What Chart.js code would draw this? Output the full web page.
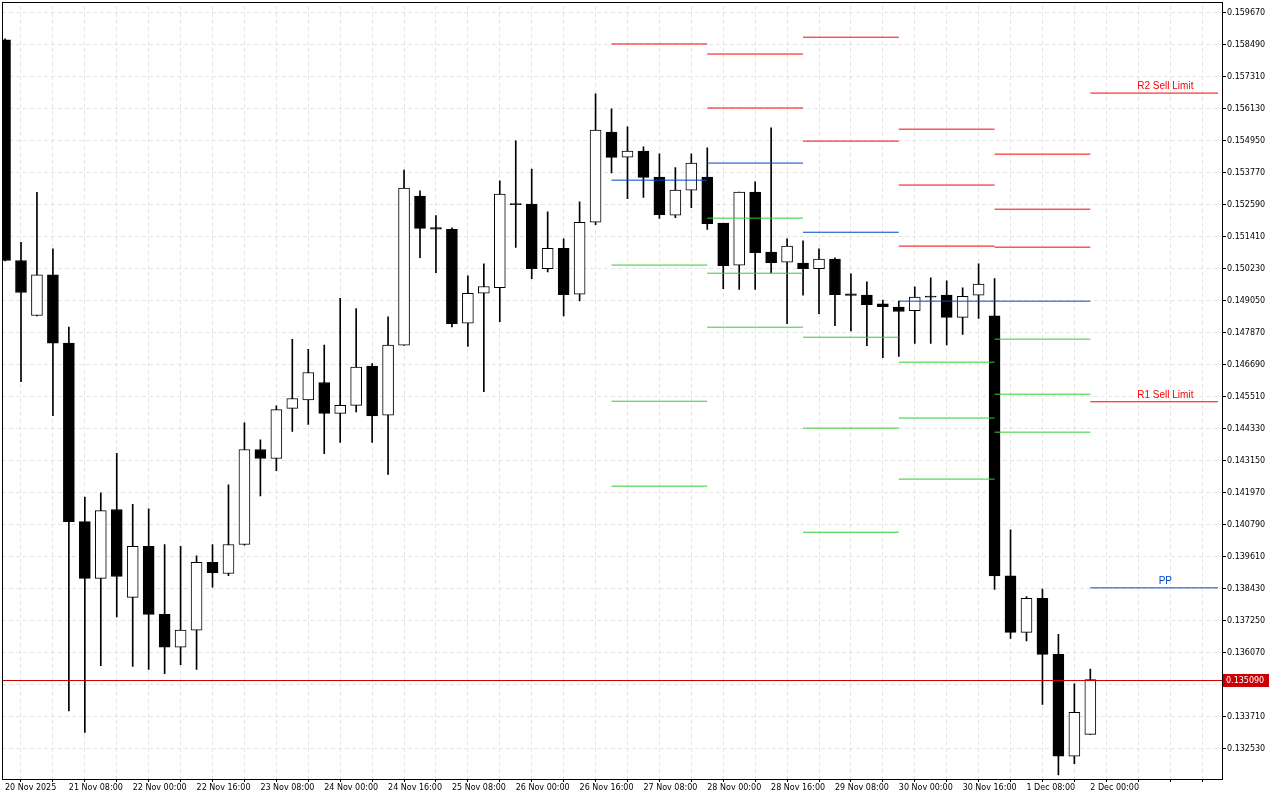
<!DOCTYPE html>
<html><head><meta charset="utf-8">
<script src="https://cdn.jsdelivr.net/npm/chart.js@4/dist/chart.umd.min.js"></script>
<style>html,body{margin:0;padding:0;background:#fff}canvas{display:block}</style>
</head><body>
<canvas id="c" width="1280" height="800"></canvas>
<script>
// --- data (4h candles, index 0 = 20 Nov 2025 16:00) ---
const opens = [0.15867,0.15054,0.14851,0.15001,0.14749,0.14091,0.13882,0.14136,0.13812,0.14000,0.13749,0.13628,0.13691,0.13941,0.13900,0.14007,0.14357,0.14324,0.14509,0.14540,0.14604,0.14490,0.14520,0.14665,0.14484,0.14742,0.15291,0.15175,0.15169,0.14823,0.14933,0.14954,0.15264,0.15262,0.15024,0.15099,0.14930,0.15195,0.15527,0.15435,0.15457,0.15361,0.15221,0.15313,0.15361,0.15192,0.15037,0.15306,0.15085,0.15048,0.15044,0.15024,0.15059,0.14931,0.14926,0.14894,0.14882,0.14869,0.14923,0.14926,0.14844,0.14926,0.14850,0.13891,0.13683,0.13808,0.13602,0.13227,0.13307];
const highs = [0.15871,0.15121,0.15305,0.15097,0.14808,0.14182,0.14197,0.14343,0.14155,0.14138,0.14007,0.14000,0.13965,0.14007,0.14227,0.14455,0.14393,0.14518,0.14763,0.14726,0.14742,0.14914,0.14877,0.14674,0.14846,0.15387,0.15311,0.15219,0.15174,0.14997,0.15042,0.15348,0.15495,0.15391,0.15233,0.15134,0.15270,0.15668,0.15613,0.15547,0.15473,0.15447,0.15396,0.15447,0.15469,0.15192,0.15306,0.15344,0.15543,0.15134,0.15126,0.15097,0.15064,0.15005,0.14975,0.14908,0.14904,0.14957,0.14990,0.14979,0.14953,0.15042,0.14987,0.14061,0.13815,0.13843,0.13676,0.13493,0.13548];
const lows = [0.15052,0.14607,0.14850,0.14482,0.13393,0.13314,0.13560,0.13740,0.13557,0.13546,0.13531,0.13564,0.13546,0.13850,0.13892,0.14004,0.14186,0.14279,0.14424,0.14450,0.14342,0.14383,0.14496,0.14383,0.14265,0.14741,0.15064,0.15009,0.14809,0.14737,0.14570,0.14828,0.15102,0.14987,0.15012,0.14850,0.14905,0.15186,0.15377,0.15282,0.15286,0.15209,0.15212,0.15249,0.15168,0.14950,0.14947,0.14947,0.15008,0.14821,0.14926,0.14858,0.14814,0.14794,0.14740,0.14696,0.14700,0.14748,0.14748,0.14743,0.14781,0.14840,0.13841,0.13661,0.13651,0.13417,0.13157,0.13199,0.13307];
const closes = [0.15054,0.14936,0.15001,0.14749,0.14091,0.13882,0.14132,0.13889,0.14000,0.13749,0.13628,0.13691,0.13941,0.13903,0.14007,0.14357,0.14324,0.14504,0.14545,0.14641,0.14490,0.14520,0.14661,0.14481,0.14742,0.15321,0.15172,0.15169,0.14821,0.14933,0.14958,0.15299,0.15260,0.15024,0.15099,0.14928,0.15195,0.15535,0.15434,0.15457,0.15360,0.15223,0.15313,0.15413,0.15190,0.15035,0.15306,0.15083,0.15046,0.15107,0.15024,0.15059,0.14928,0.14925,0.14891,0.14884,0.14866,0.14919,0.14919,0.14844,0.14922,0.14967,0.13891,0.13683,0.13808,0.13602,0.13227,0.13388,0.13509];
const timeLabels = {0:'20 Nov 2025',4:'21 Nov 08:00',8:'22 Nov 00:00',12:'22 Nov 16:00',16:'23 Nov 08:00',20:'24 Nov 00:00',24:'24 Nov 16:00',28:'25 Nov 08:00',32:'26 Nov 00:00',36:'26 Nov 16:00',40:'27 Nov 08:00',44:'28 Nov 00:00',48:'28 Nov 16:00',52:'29 Nov 08:00',56:'30 Nov 00:00',60:'30 Nov 16:00',64:'1 Dec 08:00',68:'2 Dec 00:00'};
const priceTicks = [0.13253,0.13371,0.13489,0.13607,0.13725,0.13843,0.13961,0.14079,0.14197,0.14315,0.14433,0.14551,0.14669,0.14787,0.14905,0.15023,0.15141,0.15259,0.15377,0.15495,0.15613,0.15731,0.15849,0.15967];
// daily pivot levels
const dayStart = [38,44,50,56,62,68];
const dayEnd   = [44,50,56,62,68,76];
const resistances = [[0.15852],[0.15815,0.15616],[0.15877,0.15494],[0.15538,0.15332,0.15107],[0.15446,0.15243,0.15103],[0.15671,0.14533]];
const pivots = [0.15350,0.15413,0.15158,0.14904,0.14904,0.13847];
const supports = [[0.15037,0.14535,0.14222],[0.15210,0.15007,0.14808],[0.14771,0.14436,0.14052],[0.14679,0.14473,0.14248],[0.14764,0.14561,0.14421],[]];
const orderLabels = [{text:'R2 Sell Limit',y:0.15671,color:'#ff0000'},{text:'R1 Sell Limit',y:0.14533,color:'#ff0000'},{text:'PP',y:0.13847,color:'#0047c8'}];
const currentPrice = 0.13509;

// --- build datasets ---
const bull = i => closes[i] >= opens[i];
const idx = opens.map((_, i) => i);
const datasets = [];
datasets.push({type:'bar', order:3, data: idx.map(i => ({x:i, y:[lows[i], highs[i]]})),
  backgroundColor:'#000', borderWidth:0, barThickness:1, grouped:false});
datasets.push({type:'bar', order:2, data: idx.map(i => ({x:i, y:[opens[i], closes[i]]})),
  backgroundColor: idx.map(i => bull(i) ? '#fff' : '#000'), borderColor:'#000', borderWidth:1,
  borderSkipped:false, barThickness:11, grouped:false});
function seg(y, a, b, color){
  datasets.push({type:'line', order:1, data:[{x:a,y:y},{x:b,y:y}], borderColor:color, borderWidth:1,
    pointRadius:0, fill:false, tension:0});
}
dayStart.forEach((s, d) => {
  resistances[d].forEach(v => seg(v, s, dayEnd[d], '#ff0000'));
  seg(pivots[d], s, dayEnd[d], '#0047c8');
  supports[d].forEach(v => seg(v, s, dayEnd[d], '#32cd32'));
});

const deco = {
  id:'deco',
  afterDatasetsDraw(chart){
    const {ctx, chartArea:a, scales:{x, y}} = chart;
    ctx.save();
    const py = Math.round(y.getPixelForValue(currentPrice)) + 0.5;
    ctx.strokeStyle = '#cc0000'; ctx.lineWidth = 1;
    ctx.beginPath(); ctx.moveTo(a.left, py); ctx.lineTo(a.right, py); ctx.stroke();
    ctx.font = '10px "Liberation Sans"'; ctx.textAlign = 'center'; ctx.textBaseline = 'bottom';
    orderLabels.forEach(l => {
      ctx.fillStyle = l.color;
      ctx.fillText(l.text, x.getPixelForValue(72.7), y.getPixelForValue(l.y) - 2);
    });
    ctx.strokeStyle = '#000';
    ctx.strokeRect(a.left + 0.5, 2.5, a.right - a.left, a.bottom - 2);
    ctx.restore();
  },
  afterDraw(chart){
    const {ctx, chartArea:a, scales:{y}} = chart;
    const py = Math.round(y.getPixelForValue(currentPrice));
    ctx.save();
    ctx.fillStyle = '#cc0000';
    ctx.fillRect(a.right + 1, py - 6, 46, 13);
    ctx.fillStyle = '#fff'; ctx.font = '8px "DejaVu Sans"'; ctx.textBaseline = 'middle'; ctx.textAlign = 'left';
    ctx.fillText(currentPrice.toFixed(6), a.right + 4, py + 1);
    ctx.restore();
  }
};

Chart.defaults.font.family = '"DejaVu Sans"';
Chart.defaults.font.size = 8;
Chart.defaults.color = '#000';
new Chart(document.getElementById('c'), {
  data:{datasets},
  options:{
    responsive:false, animation:false, events:[],
    layout:{padding:{left:2, top:2, right:0, bottom:0}},
    plugins:{legend:{display:false}, tooltip:{enabled:false}},
    scales:{
      x:{type:'linear', min:-0.19, max:76.25, offset:false,
        afterBuildTicks(s){ const t=[]; for(let i=0;i<=76;i+=2) t.push({value:i}); s.ticks=t; },
        afterFit(s){ s.height = 21; },
        ticks:{autoSkip:false, maxRotation:0, align:'start', padding:1, color:'#000',
          callback:(v)=> timeLabels[v] || ''},
        grid:{color:'#e4e4e4', tickLength:3, tickColor:'#000', drawTicks:true},
        border:{dash:[4,3], color:'#000'}},
      y:{type:'linear', position:'right', min:0.131424, max:0.159928,
        afterBuildTicks(s){ s.ticks = priceTicks.map(v => ({value:v})); },
        afterFit(s){ s.width = 58; },
        ticks:{padding:1, color:'#000', callback:(v)=> Number(v).toFixed(6)},
        grid:{color:'#e4e4e4', tickLength:4, tickColor:'#000'},
        border:{dash:[4,3], color:'#000'}}
    }
  },
  plugins:[deco]
});
</script>
</body></html>
